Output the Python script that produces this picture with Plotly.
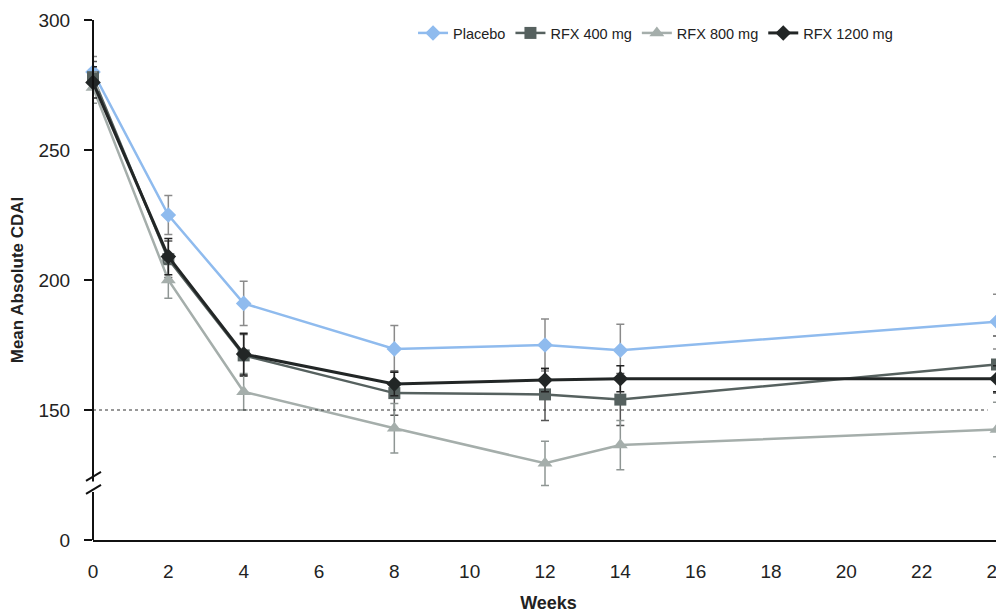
import plotly.graph_objects as go

weeks = [0, 2, 4, 8, 12, 14, 24]

placebo = [280, 225, 191, 173.5, 175, 173, 184]
placebo_err = [6, 7.5, 8.5, 9, 10, 10, 10.5]

rfx400 = [278, 208, 171, 156.5, 156, 154, 167.5]
rfx400_err = [6, 7, 8, 8.5, 10, 10, 11]

rfx800 = [274, 200, 157, 143, 129.5, 136.5, 142.5]
rfx800_err = [6, 7, 7, 9.5, 8.5, 9.5, 10.5]

rfx1200 = [276, 209, 171.5, 160, 161.5, 162, 162]
rfx1200_err = [6, 7, 8, 4.5, 4.5, 5, 5]

series_names = ["Placebo", "RFX 400 mg", "RFX 800 mg", "RFX 1200 mg"]
y_tickvals = [100, 150, 200, 250, 300]
y_ticktext = ["0", "150", "200", "250", "300"]
x_tickvals = list(range(0, 25, 2))

FONT = "Liberation Sans, Arial, sans-serif"

specs = [
    (placebo, placebo_err, "#8fbbee", "#8a8a8a", "diamond", 12, 2.5),
    (rfx400, rfx400_err, "#56615f", "#555555", "square", 12, 2.5),
    (rfx800, rfx800_err, "#a5aeab", "#8f9694", "triangle-up", 13, 2.5),
    (rfx1200, rfx1200_err, "#222626", "#222222", "diamond", 12, 3),
]

fig = go.Figure()
for name, (vals, errs, col, ecol, sym, msize, lw) in zip(series_names, specs):
    fig.add_trace(go.Scatter(
        x=weeks, y=vals, name=name, mode="lines+markers",
        line=dict(color=col, width=lw),
        marker=dict(symbol=sym, size=msize, color=col),
        error_y=dict(type="data", array=errs, visible=True,
                     color=ecol, thickness=1.5, width=4),
        cliponaxis=False,
    ))

shapes = [
    dict(type="line", xref="x", yref="y", x0=0, x1=23.75, y0=150, y1=150,
         line=dict(color="#333333", width=1.2, dash="dot")),
    dict(type="line", xref="paper", yref="y", x0=0, x1=0, y0=300, y1=122.5,
         line=dict(color="#111111", width=2)),
    dict(type="line", xref="paper", yref="y", x0=0, x1=0, y0=118.5, y1=100,
         line=dict(color="#111111", width=2)),
]
for anchor in [124.5, 119.5]:
    shapes.append(dict(type="line", xref="paper", yref="y",
                       xsizemode="pixel", ysizemode="pixel",
                       xanchor=0, yanchor=anchor,
                       x0=-7, x1=8, y0=-4.5, y1=4.5,
                       line=dict(color="#111111", width=2)))

fig.update_layout(
    width=996, height=606,
    margin=dict(l=85, r=0, t=12, b=74),
    paper_bgcolor="white", plot_bgcolor="white",
    font=dict(family=FONT, color="#222222"),
    showlegend=True,
    legend=dict(orientation="h", x=0.3513, y=0.975, xanchor="left", yanchor="middle",
                font=dict(size=14.5, color="#222222"), bgcolor="rgba(0,0,0,0)"),
    shapes=shapes,
    xaxis=dict(range=[0, 24 * 911 / 904], tickvals=x_tickvals,
               showgrid=False, zeroline=False, showline=True,
               linecolor="#111111", linewidth=2, ticks="",
               automargin=False, ticklabeloverflow="allow",
               ticklabelstandoff=13,
               tickfont=dict(size=19, color="#222222"),
               title=dict(text="<b>Weeks</b>", font=dict(size=18, color="#222222"),
                          standoff=16)),
    yaxis=dict(range=[100, 300], tickvals=y_tickvals, ticktext=y_ticktext,
               showgrid=False, zeroline=False, showline=False,
               ticks="outside", ticklen=8, tickwidth=1.5, tickcolor="#111111",
               automargin=False, ticklabelstandoff=10,
               tickfont=dict(size=19, color="#222222"),
               title=dict(text="<b>Mean Absolute CDAI</b>",
                          font=dict(size=17, color="#222222"), standoff=14)),
)

fig.write_html("out.html")
